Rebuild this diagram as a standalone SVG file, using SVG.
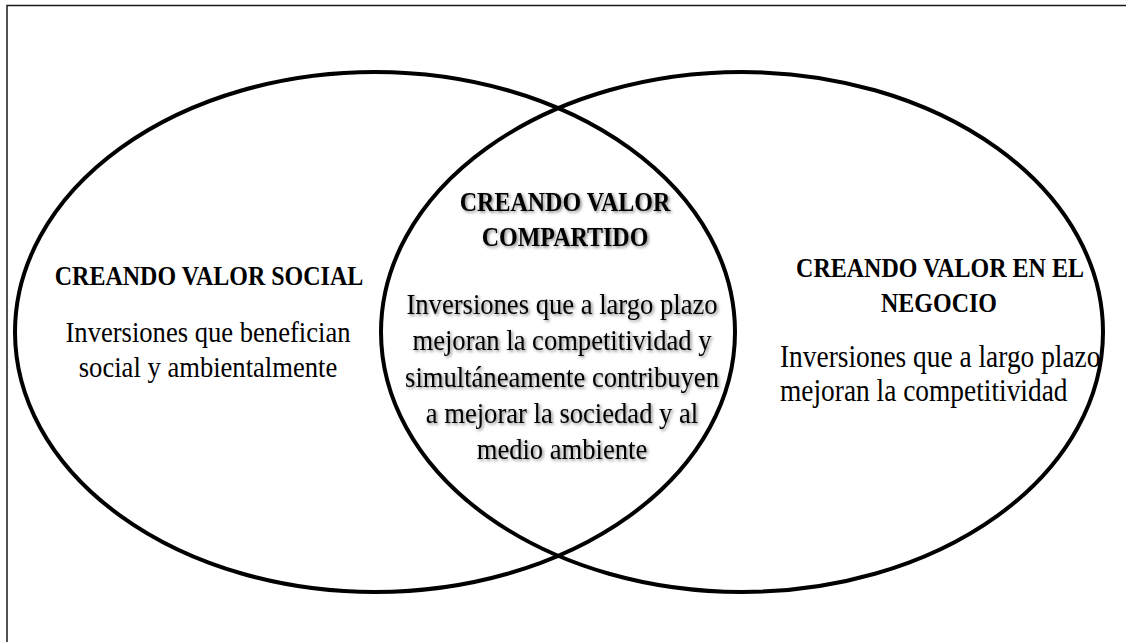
<svg xmlns="http://www.w3.org/2000/svg" width="1126" height="642" viewBox="0 0 1126 642">
  <defs>
    <filter id="glow" x="-10%" y="-30%" width="120%" height="160%">
      <feDropShadow dx="1.5" dy="1.5" stdDeviation="1.8" flood-color="#000" flood-opacity="0.5"/>
    </filter>
  </defs>
  <style>
    .frame { fill: none; stroke: #1a1a1a; stroke-width: 1.5; }
    .set { fill: none; stroke: #000; stroke-width: 4; }
    .title { font-family: "Liberation Serif", "Times New Roman", serif; font-weight: bold; font-size: 24px; fill: #000; }
    .body { font-family: "Liberation Serif", "Times New Roman", serif; font-size: 26.6px; fill: #000; }
    .wide { font-size: 27.4px; }
    .mid { text-anchor: middle; }
    .shadow { filter: url(#glow); }
  </style>
  <rect width="1126" height="642" fill="#fff"/>
  <rect class="frame" x="7" y="5.5" width="1140" height="660"/>

  <g id="social">
    <ellipse class="set" cx="375" cy="332" rx="360" ry="260"/>
  </g>
  <g id="negocio">
    <ellipse class="set" cx="742" cy="332" rx="361" ry="260"/>
  </g>

  <g id="social-text">
    <text class="title mid" transform="translate(209,285) scale(1,1.15)">CREANDO VALOR SOCIAL</text>
    <text class="body mid" transform="translate(208,342) scale(1,1.12)">Inversiones que benefician</text>
    <text class="body mid" transform="translate(208,377) scale(1,1.12)">social y ambientalmente</text>
  </g>

  <g id="compartido" class="shadow">
    <text class="title mid" transform="translate(565,211) scale(1,1.15)">CREANDO VALOR</text>
    <text class="title mid" transform="translate(565,246) scale(1,1.15)">COMPARTIDO</text>
    <text class="body mid" transform="translate(562,314) scale(1,1.12)">Inversiones que a largo plazo</text>
    <text class="body mid" transform="translate(562,350) scale(1,1.12)">mejoran la competitividad y</text>
    <text class="body mid" transform="translate(562,387) scale(1,1.12)">simultáneamente contribuyen</text>
    <text class="body mid" transform="translate(562,423) scale(1,1.12)">a mejorar la sociedad y al</text>
    <text class="body mid" transform="translate(562,459) scale(1,1.12)">medio ambiente</text>
  </g>

  <g id="negocio-text">
    <text class="title mid" transform="translate(940,277) scale(1,1.15)">CREANDO VALOR EN EL</text>
    <text class="title mid" transform="translate(939,312) scale(1,1.15)">NEGOCIO</text>
    <text class="body wide" transform="translate(780,367) scale(1,1.12)">Inversiones que a largo plazo</text>
    <text class="body wide" transform="translate(780,401) scale(1,1.12)">mejoran la competitividad</text>
  </g>

  <g id="connectors"></g>
</svg>
